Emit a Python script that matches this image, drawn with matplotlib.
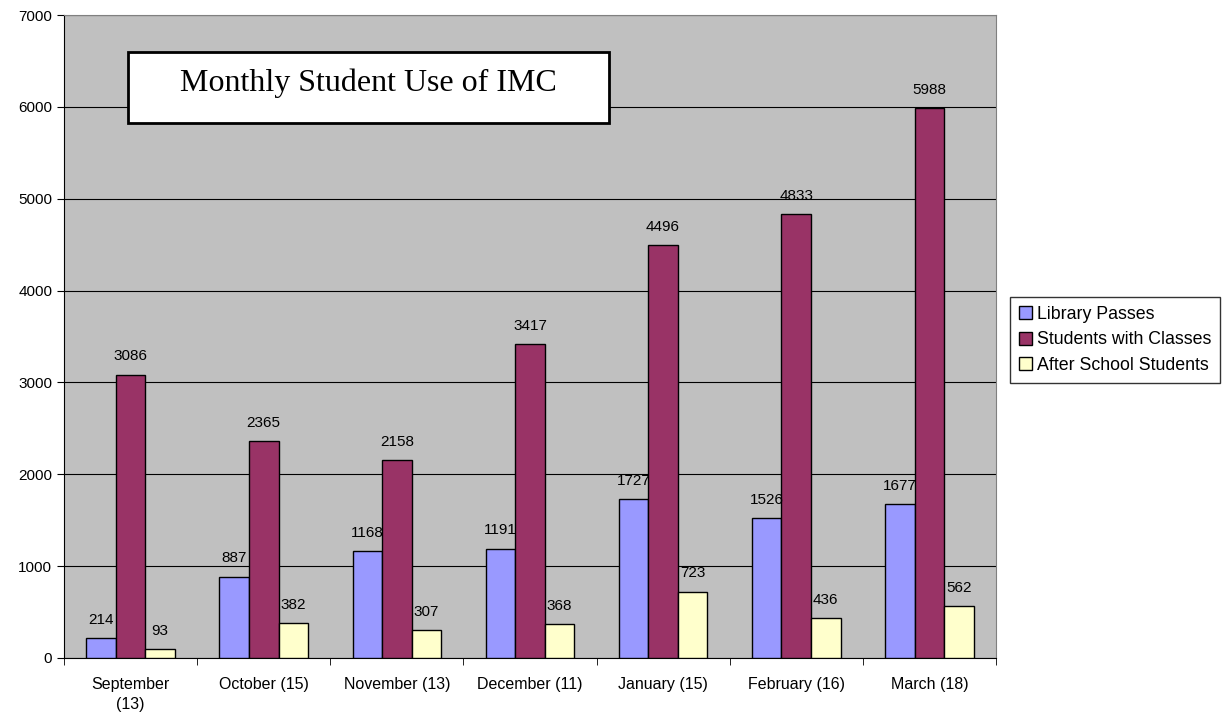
import matplotlib as mpl
mpl.use("Agg")
import matplotlib.pyplot as plt
from matplotlib.patches import Rectangle
import numpy as np

months = ["September\n(13)", "October (15)", "November (13)", "December (11)",
          "January (15)", "February (16)", "March (18)"]
library_passes = [214, 887, 1168, 1191, 1727, 1526, 1677]
students_with_classes = [3086, 2365, 2158, 3417, 4496, 4833, 5988]
after_school = [93, 382, 307, 368, 723, 436, 562]
series_names = ["Library Passes", "Students with Classes", "After School Students"]
colors = ["#9999FF", "#993366", "#FFFFCC"]

plt.rcParams["font.family"] = ["Liberation Sans", "DejaVu Sans"]

fig = plt.figure(figsize=(12.22, 7.17), dpi=100)
ax = fig.add_axes([0.0524, 0.0823, 0.7626, 0.8967])
ax.set_facecolor("#C0C0C0")

x = np.arange(len(months))
width = 0.222
for i, (vals, name, color) in enumerate(zip([library_passes, students_with_classes, after_school],
                                             series_names, colors)):
    bars = ax.bar(x + (i - 1) * width, vals, width, color=color, edgecolor="black",
                  linewidth=1, label=name, zorder=3)
    ax.bar_label(bars, padding=8, fontsize=11, zorder=4)

ax.set_xlim(-0.5, len(months) - 0.5)
ax.set_ylim(0, 7000)
ax.set_yticks(range(0, 7001, 1000))
ax.yaxis.grid(True, color="black", linewidth=0.8, zorder=0)
ax.set_xticks(x)
ax.set_xticklabels(months, fontsize=11.5, linespacing=1.4)
ax.set_xticks(np.arange(-0.5, len(months)), minor=True)
ax.tick_params(axis="x", which="major", length=0, pad=14)
ax.tick_params(axis="x", which="minor", length=5, direction="out")
ax.tick_params(axis="y", length=5, labelsize=11)

for side in ["top", "right"]:
    ax.spines[side].set_color("#808080")
for side in ["left", "bottom"]:
    ax.spines[side].set_color("black")

# title box sits inside the plot area
ax.add_patch(Rectangle((0.0687, 0.832), 0.5163, 0.1105, transform=ax.transAxes,
                       facecolor="white", edgecolor="black", linewidth=2, zorder=5))
ax.text(0.327, 0.894, "Monthly Student Use of IMC", transform=ax.transAxes,
        ha="center", va="center", fontsize=23, family="Liberation Serif", zorder=6)

fig.legend(loc="upper left", bbox_to_anchor=(1010 / 1222, 1 - 297 / 717), fontsize=12.8,
           frameon=True, fancybox=False, edgecolor="black", handlelength=0.75, handleheight=0.75,
           handletextpad=0.25, borderpad=0.5, labelspacing=0.48, borderaxespad=0)

fig.savefig("out.png", dpi=100)
